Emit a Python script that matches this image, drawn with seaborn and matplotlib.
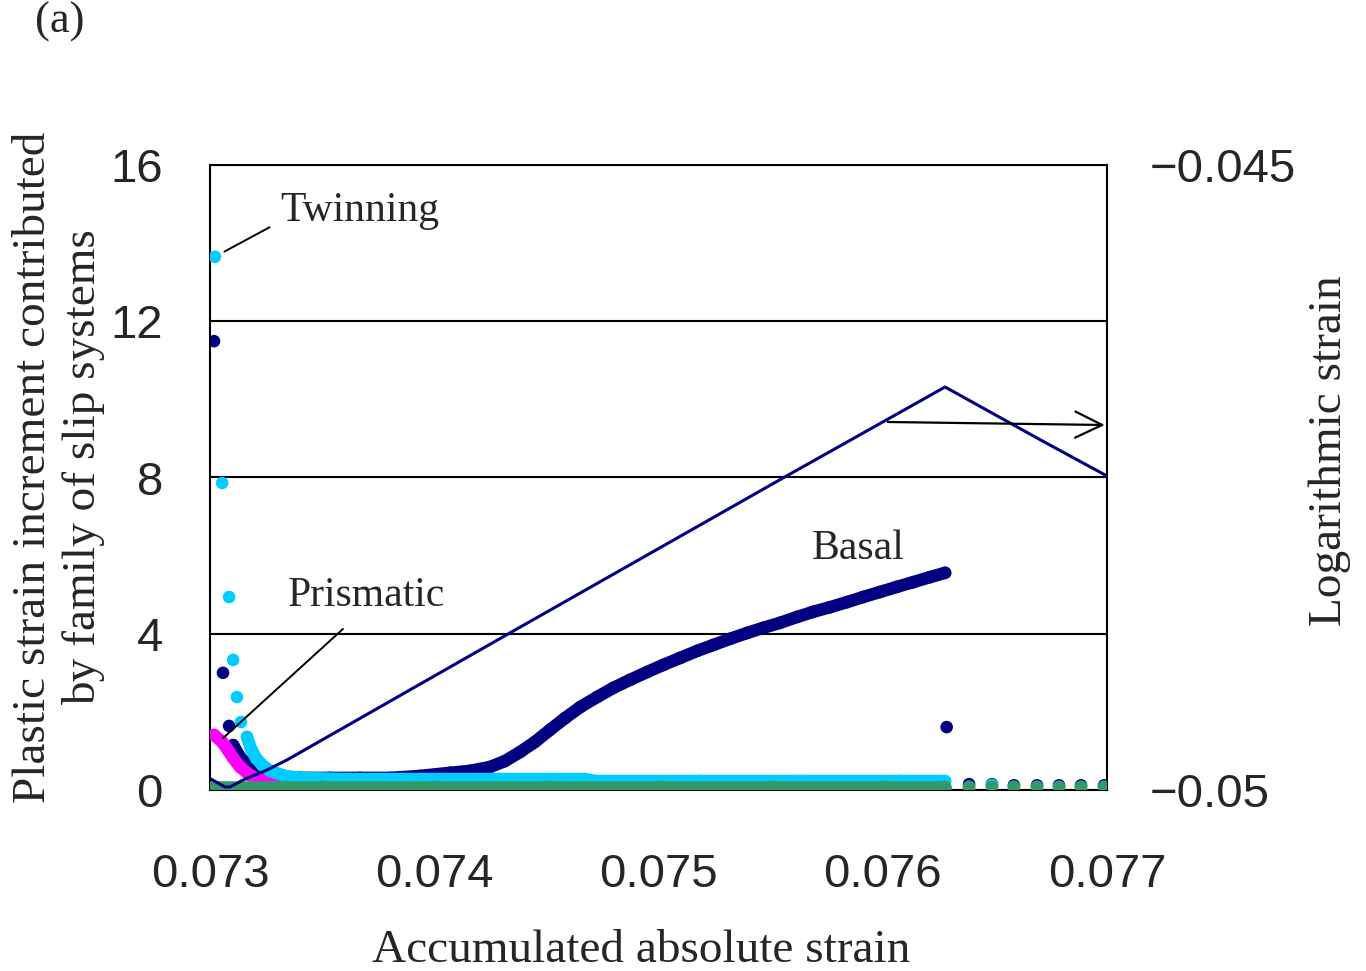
import matplotlib
matplotlib.use("Agg")
import matplotlib.pyplot as plt
import seaborn as sns

# ---------------- data ----------------
basal_x = [0.073018, 0.073058, 0.073085, 0.073103, 0.073134, 0.073178, 0.073232,
           0.073312, 0.073401, 0.073535, 0.073669, 0.073803, 0.073936, 0.074070,
           0.074159, 0.074249, 0.074315, 0.074382, 0.074449, 0.074516, 0.074583,
           0.074650, 0.074726, 0.074797, 0.074873, 0.074949, 0.075020, 0.075096,
           0.075172, 0.075243, 0.075319, 0.075395, 0.075466, 0.075542, 0.075618,
           0.075689, 0.075765, 0.075841, 0.075912, 0.075988, 0.076063, 0.076135,
           0.076211, 0.076278, 0.076285, 0.076385, 0.076487, 0.076585, 0.076688,
           0.076786, 0.076884, 0.076987]
basal_y = [11.49, 3.00, 1.64, 1.15, 0.84, 0.59, 0.44,
           0.33, 0.31, 0.31, 0.31, 0.31, 0.36, 0.44,
           0.49, 0.59, 0.74, 0.97, 1.23, 1.54, 1.84,
           2.12, 2.38, 2.61, 2.82, 3.02, 3.20, 3.38,
           3.56, 3.71, 3.87, 4.02, 4.15, 4.28, 4.43,
           4.56, 4.68, 4.81, 4.94, 5.07, 5.20, 5.32,
           5.45, 5.56, 1.61, 0.15, 0.15, 0.12, 0.12,
           0.12, 0.12, 0.12]

twin_x = [0.073022, 0.073054, 0.073085, 0.073103, 0.073120, 0.073138, 0.073165,
          0.073183, 0.073205, 0.073232, 0.073268, 0.073334, 0.073401, 0.073624,
          0.073936, 0.074293, 0.074672, 0.074717, 0.075185, 0.075631, 0.076077,
          0.076278, 0.076385, 0.076487, 0.076585, 0.076688, 0.076786, 0.076884,
          0.076987]
twin_y = [13.65, 7.86, 4.94, 3.33, 2.38, 1.74, 1.36,
          1.05, 0.82, 0.64, 0.49, 0.36, 0.31, 0.28,
          0.28, 0.28, 0.28, 0.23, 0.23, 0.23, 0.23,
          0.23, 0.08, 0.13, 0.08, 0.08, 0.08, 0.08,
          0.08]

prism_x = [0.073018, 0.073054, 0.073080, 0.073103, 0.073134, 0.073178, 0.073223,
           0.073281, 0.073357, 0.073847, 0.074739, 0.076278]
prism_y = [1.41, 1.23, 1.02, 0.82, 0.59, 0.38, 0.26,
           0.20, 0.13, 0.05, 0.05, 0.05]

pyr_x = [0.073018, 0.073500, 0.074000, 0.074500, 0.075000, 0.075500, 0.076000,
         0.076278, 0.076385, 0.076487, 0.076585, 0.076688, 0.076786, 0.076884,
         0.076987]
pyr_y = [0.08, 0.08, 0.08, 0.08, 0.08, 0.08, 0.08,
         0.08, 0.08, 0.08, 0.08, 0.08, 0.08, 0.08,
         0.08]

logstrain_x = [0.072996, 0.073067, 0.073089, 0.073147, 0.073254, 0.073343,
               0.074329, 0.075555, 0.076278, 0.076688, 0.077000]
logstrain_y = [-0.049904, -0.049976, -0.049976, -0.049920, -0.049840, -0.049760,
               -0.048752, -0.047504, -0.046776, -0.047184, -0.047488]

xticks = [0.073, 0.074, 0.075, 0.076, 0.077]
xtick_labels = ["0.073", "0.074", "0.075", "0.076", "0.077"]
yticks = [0, 4, 8, 12, 16]
ytick_labels = ["0", "4", "8", "12", "16"]
rticks = [-0.05, -0.045]
rtick_labels = ["\u22120.05", "\u22120.045"]

# ---------------- style ----------------
sns.set_style("white")
plt.rcParams["font.family"] = ["Liberation Serif", "DejaVu Serif"]

NAVY = "#000080"
CYAN = "#00CCFF"
MAGENTA = "#FF00FF"
GREEN = "#339966"

fig = plt.figure(figsize=(13.66, 9.71), dpi=100)
ax = fig.add_axes([210 / 1366, 181 / 971, 897 / 1366, 625 / 971])

MS = 82      # scatter marker area (pt^2)
BW = 9.0     # band line width (pt) for the dense runs of points


def band(x, y, color, z):
    sns.lineplot(x=x, y=y, ax=ax, color=color, linewidth=BW, estimator=None,
                 sort=False, zorder=z, solid_capstyle="round", legend=False)


def dots(x, y, color, z):
    sns.scatterplot(x=x, y=y, ax=ax, color=color, s=MS, edgecolor="none",
                    linewidth=0, zorder=z, legend=False)


# basal
band(basal_x[3:44], basal_y[3:44], NAVY, 2)
dots(basal_x, basal_y, NAVY, 2.1)
# prismatic
band(prism_x[0:], prism_y[0:], MAGENTA, 3)
dots(prism_x, prism_y, MAGENTA, 3.1)
# twinning
band(twin_x[6:22], twin_y[6:22], CYAN, 4)
dots(twin_x, twin_y, CYAN, 4.1)
# pyramidal
band(pyr_x[0:8], pyr_y[0:8], GREEN, 5)
dots(pyr_x, pyr_y, GREEN, 5.1)

ax.set_xlim(0.073, 0.077)
ax.set_ylim(0, 16)
ax.set_xticks(xticks)
ax.set_xticklabels(xtick_labels)
ax.set_yticks(yticks)
ax.set_yticklabels(ytick_labels)
ax.set_xlabel("")
ax.set_ylabel("")
ax.yaxis.grid(True, color="black", linewidth=1.5, zorder=0)
ax.xaxis.grid(False)
ax.set_axisbelow(True)
for s in ax.spines.values():
    s.set_color("black")
    s.set_linewidth(1.5)
ax.tick_params(axis="x", direction="in", length=13, width=1.2, color="black",
               pad=45, labelsize=34, labelfontfamily="Liberation Sans")
ax.tick_params(axis="y", length=0, pad=34, labelsize=34,
               labelfontfamily="Liberation Sans")

# right axis: logarithmic strain
ax2 = ax.twinx()
sns.lineplot(x=logstrain_x, y=logstrain_y, ax=ax2, color=NAVY, linewidth=2.2,
             estimator=None, sort=False, legend=False)
ax2.set_ylim(-0.05, -0.045)
ax2.set_yticks(rticks)
ax2.set_yticklabels(rtick_labels)
ax2.set_ylabel("")
ax2.grid(False)
for s in ax2.spines.values():
    s.set_visible(False)
ax2.tick_params(axis="y", length=0, pad=31, labelsize=34,
                labelfontfamily="Liberation Sans")

# annotations
ax.annotate("", xy=(0.0730535, 13.75), xytext=(0.0732765, 14.44),
            arrowprops=dict(arrowstyle="-", color="black", lw=1.4), zorder=10)
ax.text(0.073312, 14.57, "Twinning", fontsize=30, va="baseline", ha="left",
        zorder=10)
ax.annotate("", xy=(0.073049, 1.28), xytext=(0.073602, 4.17),
            arrowprops=dict(arrowstyle="-", color="black", lw=1.4), zorder=10)
ax.text(0.073348, 4.71, "Prismatic", fontsize=30, va="baseline", ha="left",
        zorder=10)
ax.text(0.075684, 5.91, "Basal", fontsize=30, va="baseline", ha="left",
        zorder=10)
ax2.annotate("", xy=(0.076990, -0.047080), xytext=(0.076023, -0.047056),
             arrowprops=dict(arrowstyle="->,head_length=0.97,head_width=0.47",
                             mutation_scale=20, color="black", lw=1.6,
                             shrinkA=0, shrinkB=0),
             zorder=10)

# axis titles
fig.text(59 / 1366, 1 - 467 / 971,
         "Plastic strain increment contributed\nby family of slip systems",
         rotation=90, ha="center", va="center", multialignment="center",
         fontsize=34, linespacing=1.2)
fig.text(1330 / 1366, 1 - 451 / 971, "Logarithmic strain", rotation=90,
         ha="center", va="center", fontsize=34)
fig.text(641 / 1366, 9 / 971, "Accumulated absolute strain", ha="center",
         va="baseline", fontsize=34)
fig.text(35 / 1366, 1 - 33 / 971, "(a)", ha="left", va="baseline", fontsize=32)

fig.savefig("out.png", dpi=100)
